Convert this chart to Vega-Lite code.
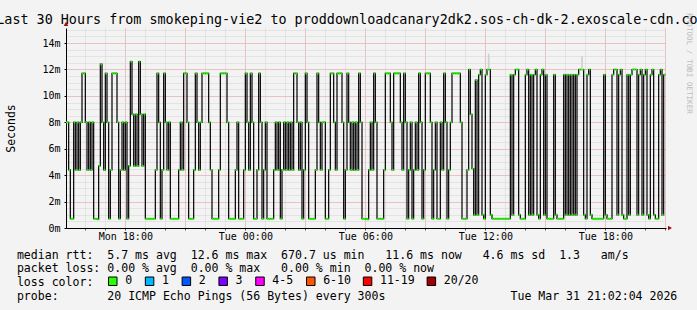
{
"$schema": "https://vega.github.io/schema/vega-lite/v6.json",
"width": 600, "height": 200,
"autosize": "none",
"padding": {"left": 66, "top": 28, "right": 31, "bottom": 82},
"background": "#f3f3f3",
"config": {
  "font": "DejaVu Sans Mono",
  "view": {"fill": "white", "stroke": null},
  "axis": {"labelFont": "DejaVu Sans Mono", "labelColor": "black", "titleFont": "DejaVu Sans Mono", "titleFontWeight": "normal", "titleColor": "black", "domainColor": "black", "gridWidth": 1, "gridDash": [1, 1]}
},
"title": {"text": "Last 30 Hours from smokeping-vie2 to proddownloadcanary2dk2.sos-ch-dk-2.exoscale-cdn.com", "font": "DejaVu Sans Mono", "fontSize": 13.4, "fontWeight": "normal", "color": "black", "anchor": "middle", "frame": "group", "dx": -15, "dy": 17, "baseline": "alphabetic", "offset": -8},
"datasets": {
"rtt": [
{"t":"2026-03-30T15:00Z","v":0.008},{"t":"2026-03-30T15:05Z","v":0.008},{"t":"2026-03-30T15:10Z","v":0.0044},{"t":"2026-03-30T15:15Z","v":0.0007},{"t":"2026-03-30T15:20Z","v":0.0007},{"t":"2026-03-30T15:25Z","v":0.008},{"t":"2026-03-30T15:30Z","v":0.0044},{"t":"2026-03-30T15:35Z","v":0.008},{"t":"2026-03-30T15:40Z","v":0.0044},{"t":"2026-03-30T15:45Z","v":0.008},{"t":"2026-03-30T15:50Z","v":0.0117},{"t":"2026-03-30T15:55Z","v":0.0117},
{"t":"2026-03-30T16:00Z","v":0.008},{"t":"2026-03-30T16:05Z","v":0.0044},{"t":"2026-03-30T16:10Z","v":0.008},{"t":"2026-03-30T16:15Z","v":0.0044},{"t":"2026-03-30T16:20Z","v":0.008},{"t":"2026-03-30T16:25Z","v":0.0007},{"t":"2026-03-30T16:30Z","v":0.0007},{"t":"2026-03-30T16:35Z","v":0.00067},{"t":"2026-03-30T16:40Z","v":0.0047},{"t":"2026-03-30T16:45Z","v":0.0124},{"t":"2026-03-30T16:50Z","v":0.008},{"t":"2026-03-30T16:55Z","v":0.0044},
{"t":"2026-03-30T17:00Z","v":0.0117},{"t":"2026-03-30T17:05Z","v":0.008},{"t":"2026-03-30T17:10Z","v":0.0007},{"t":"2026-03-30T17:15Z","v":0.0044},{"t":"2026-03-30T17:20Z","v":0.0117},{"t":"2026-03-30T17:25Z","v":0.0117},{"t":"2026-03-30T17:30Z","v":0.0117},{"t":"2026-03-30T17:35Z","v":0.008},{"t":"2026-03-30T17:40Z","v":0.0007},{"t":"2026-03-30T17:45Z","v":0.0044},{"t":"2026-03-30T17:50Z","v":0.008},{"t":"2026-03-30T17:55Z","v":0.0044},
{"t":"2026-03-30T18:00Z","v":0.008},{"t":"2026-03-30T18:05Z","v":0.0007},{"t":"2026-03-30T18:10Z","v":0.0047},{"t":"2026-03-30T18:15Z","v":0.0126},{"t":"2026-03-30T18:20Z","v":0.0086},{"t":"2026-03-30T18:25Z","v":0.0047},{"t":"2026-03-30T18:30Z","v":0.0086},{"t":"2026-03-30T18:35Z","v":0.0047},{"t":"2026-03-30T18:40Z","v":0.0126},{"t":"2026-03-30T18:45Z","v":0.0086},{"t":"2026-03-30T18:50Z","v":0.0047},{"t":"2026-03-30T18:55Z","v":0.0086},
{"t":"2026-03-30T19:00Z","v":0.0007},{"t":"2026-03-30T19:05Z","v":0.0007},{"t":"2026-03-30T19:10Z","v":0.0007},{"t":"2026-03-30T19:15Z","v":0.0007},{"t":"2026-03-30T19:20Z","v":0.0007},{"t":"2026-03-30T19:25Z","v":0.0007},{"t":"2026-03-30T19:30Z","v":0.0044},{"t":"2026-03-30T19:35Z","v":0.0117},{"t":"2026-03-30T19:40Z","v":0.008},{"t":"2026-03-30T19:45Z","v":0.0007},{"t":"2026-03-30T19:50Z","v":0.0044},{"t":"2026-03-30T19:55Z","v":0.0117},
{"t":"2026-03-30T20:00Z","v":0.008},{"t":"2026-03-30T20:05Z","v":0.0044},{"t":"2026-03-30T20:10Z","v":0.008},{"t":"2026-03-30T20:15Z","v":0.0007},{"t":"2026-03-30T20:20Z","v":0.0007},{"t":"2026-03-30T20:25Z","v":0.0007},{"t":"2026-03-30T20:30Z","v":0.0007},{"t":"2026-03-30T20:35Z","v":0.0007},{"t":"2026-03-30T20:40Z","v":0.0044},{"t":"2026-03-30T20:45Z","v":0.008},{"t":"2026-03-30T20:50Z","v":0.0044},{"t":"2026-03-30T20:55Z","v":0.0117},
{"t":"2026-03-30T21:00Z","v":0.0117},{"t":"2026-03-30T21:05Z","v":0.008},{"t":"2026-03-30T21:10Z","v":0.0007},{"t":"2026-03-30T21:15Z","v":0.0007},{"t":"2026-03-30T21:20Z","v":0.0007},{"t":"2026-03-30T21:25Z","v":0.0044},{"t":"2026-03-30T21:30Z","v":0.0117},{"t":"2026-03-30T21:35Z","v":0.008},{"t":"2026-03-30T21:40Z","v":0.0044},{"t":"2026-03-30T21:45Z","v":0.008},{"t":"2026-03-30T21:50Z","v":0.0117},{"t":"2026-03-30T21:55Z","v":0.0117},
{"t":"2026-03-30T22:00Z","v":0.0117},{"t":"2026-03-30T22:05Z","v":0.0117},{"t":"2026-03-30T22:10Z","v":0.008},{"t":"2026-03-30T22:15Z","v":0.0044},{"t":"2026-03-30T22:20Z","v":0.0007},{"t":"2026-03-30T22:25Z","v":0.0007},{"t":"2026-03-30T22:30Z","v":0.0007},{"t":"2026-03-30T22:35Z","v":0.0007},{"t":"2026-03-30T22:40Z","v":0.0044},{"t":"2026-03-30T22:45Z","v":0.0117},{"t":"2026-03-30T22:50Z","v":0.0117},{"t":"2026-03-30T22:55Z","v":0.0117},
{"t":"2026-03-30T23:00Z","v":0.0117},{"t":"2026-03-30T23:05Z","v":0.008},{"t":"2026-03-30T23:10Z","v":0.0007},{"t":"2026-03-30T23:15Z","v":0.0007},{"t":"2026-03-30T23:20Z","v":0.0007},{"t":"2026-03-30T23:25Z","v":0.0007},{"t":"2026-03-30T23:30Z","v":0.0044},{"t":"2026-03-30T23:35Z","v":0.008},{"t":"2026-03-30T23:40Z","v":0.0007},{"t":"2026-03-30T23:45Z","v":0.0007},{"t":"2026-03-30T23:50Z","v":0.0007},{"t":"2026-03-30T23:55Z","v":0.0044},
{"t":"2026-03-31T00:00Z","v":0.0117},{"t":"2026-03-31T00:05Z","v":0.008},{"t":"2026-03-31T00:10Z","v":0.0044},{"t":"2026-03-31T00:15Z","v":0.0117},{"t":"2026-03-31T00:20Z","v":0.008},{"t":"2026-03-31T00:25Z","v":0.0007},{"t":"2026-03-31T00:30Z","v":0.0007},{"t":"2026-03-31T00:35Z","v":0.0044},{"t":"2026-03-31T00:40Z","v":0.0117},{"t":"2026-03-31T00:45Z","v":0.008},{"t":"2026-03-31T00:50Z","v":0.0007},{"t":"2026-03-31T00:55Z","v":0.0044},
{"t":"2026-03-31T01:00Z","v":0.008},{"t":"2026-03-31T01:05Z","v":0.0007},{"t":"2026-03-31T01:10Z","v":0.0007},{"t":"2026-03-31T01:15Z","v":0.0007},{"t":"2026-03-31T01:20Z","v":0.0007},{"t":"2026-03-31T01:25Z","v":0.0044},{"t":"2026-03-31T01:30Z","v":0.008},{"t":"2026-03-31T01:35Z","v":0.0044},{"t":"2026-03-31T01:40Z","v":0.008},{"t":"2026-03-31T01:45Z","v":0.0007},{"t":"2026-03-31T01:50Z","v":0.0044},{"t":"2026-03-31T01:55Z","v":0.008},
{"t":"2026-03-31T02:00Z","v":0.0044},{"t":"2026-03-31T02:05Z","v":0.008},{"t":"2026-03-31T02:10Z","v":0.0044},{"t":"2026-03-31T02:15Z","v":0.008},{"t":"2026-03-31T02:20Z","v":0.0044},{"t":"2026-03-31T02:25Z","v":0.0117},{"t":"2026-03-31T02:30Z","v":0.0117},{"t":"2026-03-31T02:35Z","v":0.008},{"t":"2026-03-31T02:40Z","v":0.0044},{"t":"2026-03-31T02:45Z","v":0.008},{"t":"2026-03-31T02:50Z","v":0.0007},{"t":"2026-03-31T02:55Z","v":0.0044},
{"t":"2026-03-31T03:00Z","v":0.0117},{"t":"2026-03-31T03:05Z","v":0.008},{"t":"2026-03-31T03:10Z","v":0.0007},{"t":"2026-03-31T03:15Z","v":0.0007},{"t":"2026-03-31T03:20Z","v":0.0007},{"t":"2026-03-31T03:25Z","v":0.0007},{"t":"2026-03-31T03:30Z","v":0.0044},{"t":"2026-03-31T03:35Z","v":0.0117},{"t":"2026-03-31T03:40Z","v":0.008},{"t":"2026-03-31T03:45Z","v":0.0044},{"t":"2026-03-31T03:50Z","v":0.008},{"t":"2026-03-31T03:55Z","v":0.008},
{"t":"2026-03-31T04:00Z","v":0.0007},{"t":"2026-03-31T04:05Z","v":0.0007},{"t":"2026-03-31T04:10Z","v":0.0044},{"t":"2026-03-31T04:15Z","v":0.0117},{"t":"2026-03-31T04:20Z","v":0.0117},{"t":"2026-03-31T04:25Z","v":0.008},{"t":"2026-03-31T04:30Z","v":0.0044},{"t":"2026-03-31T04:35Z","v":0.0117},{"t":"2026-03-31T04:40Z","v":0.0117},{"t":"2026-03-31T04:45Z","v":0.0117},{"t":"2026-03-31T04:50Z","v":0.008},{"t":"2026-03-31T04:55Z","v":0.0007},
{"t":"2026-03-31T05:00Z","v":0.0044},{"t":"2026-03-31T05:05Z","v":0.0117},{"t":"2026-03-31T05:10Z","v":0.008},{"t":"2026-03-31T05:15Z","v":0.0044},{"t":"2026-03-31T05:20Z","v":0.008},{"t":"2026-03-31T05:25Z","v":0.0044},{"t":"2026-03-31T05:30Z","v":0.008},{"t":"2026-03-31T05:35Z","v":0.0044},{"t":"2026-03-31T05:40Z","v":0.0117},{"t":"2026-03-31T05:45Z","v":0.008},{"t":"2026-03-31T05:50Z","v":0.0007},{"t":"2026-03-31T05:55Z","v":0.0007},
{"t":"2026-03-31T06:00Z","v":0.0007},{"t":"2026-03-31T06:05Z","v":0.00067},{"t":"2026-03-31T06:10Z","v":0.0044},{"t":"2026-03-31T06:15Z","v":0.008},{"t":"2026-03-31T06:20Z","v":0.0044},{"t":"2026-03-31T06:25Z","v":0.0117},{"t":"2026-03-31T06:30Z","v":0.008},{"t":"2026-03-31T06:35Z","v":0.0007},{"t":"2026-03-31T06:40Z","v":0.0007},{"t":"2026-03-31T06:45Z","v":0.0007},{"t":"2026-03-31T06:50Z","v":0.0007},{"t":"2026-03-31T06:55Z","v":0.0044},
{"t":"2026-03-31T07:00Z","v":0.0117},{"t":"2026-03-31T07:05Z","v":0.0117},{"t":"2026-03-31T07:10Z","v":0.0117},{"t":"2026-03-31T07:15Z","v":0.008},{"t":"2026-03-31T07:20Z","v":0.0044},{"t":"2026-03-31T07:25Z","v":0.0117},{"t":"2026-03-31T07:30Z","v":0.0117},{"t":"2026-03-31T07:35Z","v":0.0117},{"t":"2026-03-31T07:40Z","v":0.0117},{"t":"2026-03-31T07:45Z","v":0.008},{"t":"2026-03-31T07:50Z","v":0.0044},{"t":"2026-03-31T07:55Z","v":0.0117},
{"t":"2026-03-31T08:00Z","v":0.008},{"t":"2026-03-31T08:05Z","v":0.0007},{"t":"2026-03-31T08:10Z","v":0.0044},{"t":"2026-03-31T08:15Z","v":0.008},{"t":"2026-03-31T08:20Z","v":0.0007},{"t":"2026-03-31T08:25Z","v":0.0044},{"t":"2026-03-31T08:30Z","v":0.008},{"t":"2026-03-31T08:35Z","v":0.0044},{"t":"2026-03-31T08:40Z","v":0.0117},{"t":"2026-03-31T08:45Z","v":0.008},{"t":"2026-03-31T08:50Z","v":0.0007},{"t":"2026-03-31T08:55Z","v":0.0044},
{"t":"2026-03-31T09:00Z","v":0.0117},{"t":"2026-03-31T09:05Z","v":0.0117},{"t":"2026-03-31T09:10Z","v":0.0117},{"t":"2026-03-31T09:15Z","v":0.008},{"t":"2026-03-31T09:20Z","v":0.0007},{"t":"2026-03-31T09:25Z","v":0.0044},{"t":"2026-03-31T09:30Z","v":0.008},{"t":"2026-03-31T09:35Z","v":0.0007},{"t":"2026-03-31T09:40Z","v":0.0007},{"t":"2026-03-31T09:45Z","v":0.008},{"t":"2026-03-31T09:50Z","v":0.0044},{"t":"2026-03-31T09:55Z","v":0.0117},
{"t":"2026-03-31T10:00Z","v":0.008},{"t":"2026-03-31T10:05Z","v":0.0007},{"t":"2026-03-31T10:10Z","v":0.0044},{"t":"2026-03-31T10:15Z","v":0.008},{"t":"2026-03-31T10:20Z","v":0.0117},{"t":"2026-03-31T10:25Z","v":0.0117},{"t":"2026-03-31T10:30Z","v":0.0117},{"t":"2026-03-31T10:35Z","v":0.0117},{"t":"2026-03-31T10:40Z","v":0.0117},{"t":"2026-03-31T10:45Z","v":0.008},{"t":"2026-03-31T10:50Z","v":0.0007},{"t":"2026-03-31T10:55Z","v":0.0007},
{"t":"2026-03-31T11:00Z","v":0.0007},{"t":"2026-03-31T11:05Z","v":0.0044},{"t":"2026-03-31T11:10Z","v":0.012},{"t":"2026-03-31T11:15Z","v":0.0086},{"t":"2026-03-31T11:20Z","v":0.0045},{"t":"2026-03-31T11:25Z","v":0.001},{"t":"2026-03-31T11:30Z","v":0.0112},{"t":"2026-03-31T11:35Z","v":0.001},{"t":"2026-03-31T11:40Z","v":0.0116},{"t":"2026-03-31T11:45Z","v":0.012},{"t":"2026-03-31T11:50Z","v":0.001},{"t":"2026-03-31T11:55Z","v":0.0007},
{"t":"2026-03-31T12:00Z","v":0.0116},{"t":"2026-03-31T12:05Z","v":0.012},{"t":"2026-03-31T12:10Z","v":0.012},{"t":"2026-03-31T12:15Z","v":0.001},{"t":"2026-03-31T12:20Z","v":0.0007},{"t":"2026-03-31T12:25Z","v":0.0007},{"t":"2026-03-31T12:30Z","v":0.0007},{"t":"2026-03-31T12:35Z","v":0.0007},{"t":"2026-03-31T12:40Z","v":0.0007},{"t":"2026-03-31T12:45Z","v":0.0007},{"t":"2026-03-31T12:50Z","v":0.0007},{"t":"2026-03-31T12:55Z","v":0.0007},
{"t":"2026-03-31T13:00Z","v":0.0007},{"t":"2026-03-31T13:05Z","v":0.0007},{"t":"2026-03-31T13:10Z","v":0.0007},{"t":"2026-03-31T13:15Z","v":0.0116},{"t":"2026-03-31T13:20Z","v":0.001},{"t":"2026-03-31T13:25Z","v":0.0116},{"t":"2026-03-31T13:30Z","v":0.012},{"t":"2026-03-31T13:35Z","v":0.012},{"t":"2026-03-31T13:40Z","v":0.001},{"t":"2026-03-31T13:45Z","v":0.0007},{"t":"2026-03-31T13:50Z","v":0.0007},{"t":"2026-03-31T13:55Z","v":0.0007},
{"t":"2026-03-31T14:00Z","v":0.0116},{"t":"2026-03-31T14:05Z","v":0.012},{"t":"2026-03-31T14:10Z","v":0.001},{"t":"2026-03-31T14:15Z","v":0.0116},{"t":"2026-03-31T14:20Z","v":0.001},{"t":"2026-03-31T14:25Z","v":0.0116},{"t":"2026-03-31T14:30Z","v":0.012},{"t":"2026-03-31T14:35Z","v":0.001},{"t":"2026-03-31T14:40Z","v":0.0007},{"t":"2026-03-31T14:45Z","v":0.0116},{"t":"2026-03-31T14:50Z","v":0.012},{"t":"2026-03-31T14:55Z","v":0.001},
{"t":"2026-03-31T15:00Z","v":0.0116},{"t":"2026-03-31T15:05Z","v":0.0007},{"t":"2026-03-31T15:10Z","v":0.0007},{"t":"2026-03-31T15:15Z","v":0.0007},{"t":"2026-03-31T15:20Z","v":0.0007},{"t":"2026-03-31T15:25Z","v":0.0116},{"t":"2026-03-31T15:30Z","v":0.001},{"t":"2026-03-31T15:35Z","v":0.0007},{"t":"2026-03-31T15:40Z","v":0.0007},{"t":"2026-03-31T15:45Z","v":0.0007},{"t":"2026-03-31T15:50Z","v":0.0007},{"t":"2026-03-31T15:55Z","v":0.0116},
{"t":"2026-03-31T16:00Z","v":0.001},{"t":"2026-03-31T16:05Z","v":0.0116},{"t":"2026-03-31T16:10Z","v":0.001},{"t":"2026-03-31T16:15Z","v":0.0116},{"t":"2026-03-31T16:20Z","v":0.001},{"t":"2026-03-31T16:25Z","v":0.0116},{"t":"2026-03-31T16:30Z","v":0.001},{"t":"2026-03-31T16:35Z","v":0.0116},{"t":"2026-03-31T16:40Z","v":0.012},{"t":"2026-03-31T16:45Z","v":0.012},{"t":"2026-03-31T16:50Z","v":0.012},{"t":"2026-03-31T16:55Z","v":0.001},
{"t":"2026-03-31T17:00Z","v":0.0007},{"t":"2026-03-31T17:05Z","v":0.0116},{"t":"2026-03-31T17:10Z","v":0.012},{"t":"2026-03-31T17:15Z","v":0.001},{"t":"2026-03-31T17:20Z","v":0.0007},{"t":"2026-03-31T17:25Z","v":0.0007},{"t":"2026-03-31T17:30Z","v":0.0007},{"t":"2026-03-31T17:35Z","v":0.0007},{"t":"2026-03-31T17:40Z","v":0.0007},{"t":"2026-03-31T17:45Z","v":0.0007},{"t":"2026-03-31T17:50Z","v":0.0007},{"t":"2026-03-31T17:55Z","v":0.0116},
{"t":"2026-03-31T18:00Z","v":0.001},{"t":"2026-03-31T18:05Z","v":0.0007},{"t":"2026-03-31T18:10Z","v":0.0007},{"t":"2026-03-31T18:15Z","v":0.0007},{"t":"2026-03-31T18:20Z","v":0.0116},{"t":"2026-03-31T18:25Z","v":0.012},{"t":"2026-03-31T18:30Z","v":0.012},{"t":"2026-03-31T18:35Z","v":0.001},{"t":"2026-03-31T18:40Z","v":0.0116},{"t":"2026-03-31T18:45Z","v":0.012},{"t":"2026-03-31T18:50Z","v":0.001},{"t":"2026-03-31T18:55Z","v":0.0007},
{"t":"2026-03-31T19:00Z","v":0.0007},{"t":"2026-03-31T19:05Z","v":0.0116},{"t":"2026-03-31T19:10Z","v":0.001},{"t":"2026-03-31T19:15Z","v":0.0116},{"t":"2026-03-31T19:20Z","v":0.012},{"t":"2026-03-31T19:25Z","v":0.012},{"t":"2026-03-31T19:30Z","v":0.012},{"t":"2026-03-31T19:35Z","v":0.001},{"t":"2026-03-31T19:40Z","v":0.0116},{"t":"2026-03-31T19:45Z","v":0.012},{"t":"2026-03-31T19:50Z","v":0.001},{"t":"2026-03-31T19:55Z","v":0.0116},
{"t":"2026-03-31T20:00Z","v":0.012},{"t":"2026-03-31T20:05Z","v":0.001},{"t":"2026-03-31T20:10Z","v":0.0007},{"t":"2026-03-31T20:15Z","v":0.0116},{"t":"2026-03-31T20:20Z","v":0.012},{"t":"2026-03-31T20:25Z","v":0.001},{"t":"2026-03-31T20:30Z","v":0.0007},{"t":"2026-03-31T20:35Z","v":0.0007},{"t":"2026-03-31T20:40Z","v":0.0116},{"t":"2026-03-31T20:45Z","v":0.012},{"t":"2026-03-31T20:50Z","v":0.001},{"t":"2026-03-31T20:55Z","v":0.0116},
{"t":"2026-03-31T21:00Z","v":0.0116}
],
"smoke": [
{"t":"2026-03-31T12:10Z","lo":0.0121,"hi":0.0132},
{"t":"2026-03-31T16:50Z","lo":0.012,"hi":0.013}
],
"losscolors": [
{"loss":"0"},{"loss":"1"},{"loss":"2"},{"loss":"3"},{"loss":"4-5"},{"loss":"6-10"},{"loss":"11-19"},{"loss":"20/20"}
]
},
"layer": [
  {
    "data": {"name": "rtt"},
    "mark": {"type": "line", "interpolate": "step-after", "color": "black", "strokeWidth": 1.2, "clip": true},
    "encoding": {
      "x": {"field": "t", "type": "temporal",
        "scale": {"type": "utc", "domain": [{"year": 2026, "month": 3, "date": 30, "hours": 15, "minutes": 2, "utc": true}, {"year": 2026, "month": 3, "date": 31, "hours": 21, "minutes": 2, "utc": true}]},
        "axis": {"orient": "bottom", "tickCount": 30, "labels": false, "domain": false, "ticks": true, "tickSize": 2, "tickColor": "#555555", "grid": true, "gridColor": "#d2d2d2", "title": null}},
      "y": {"field": "v", "type": "quantitative", "scale": {"domain": [0, 0.01514], "nice": false, "zero": true},
        "axis": {"orient": "left", "values": [0,0.0005,0.001,0.0015,0.002,0.0025,0.003,0.0035,0.004,0.0045,0.005,0.0055,0.006,0.0065,0.007,0.0075,0.008,0.0085,0.009,0.0095,0.01,0.0105,0.011,0.0115,0.012,0.0125,0.013,0.0135,0.014,0.0145,0.015],
          "labels": false, "ticks": false, "domain": false, "grid": true, "gridColor": "#d2d2d2", "title": null}}
    }
  },
  {
    "data": {"name": "rtt"},
    "transform": [{"window": [{"op": "lead", "field": "t", "as": "t2"}]}],
    "mark": {"type": "rule", "color": "#20f000", "strokeWidth": 2, "clip": true},
    "encoding": {
      "x": {"field": "t", "type": "temporal",
        "axis": {"orient": "bottom",
          "values": [{"year": 2026, "month": 3, "date": 30, "hours": 18, "utc": true}, {"year": 2026, "month": 3, "date": 30, "hours": 21, "utc": true}, {"year": 2026, "month": 3, "date": 31, "hours": 0, "utc": true}, {"year": 2026, "month": 3, "date": 31, "hours": 3, "utc": true}, {"year": 2026, "month": 3, "date": 31, "hours": 6, "utc": true}, {"year": 2026, "month": 3, "date": 31, "hours": 9, "utc": true}, {"year": 2026, "month": 3, "date": 31, "hours": 12, "utc": true}, {"year": 2026, "month": 3, "date": 31, "hours": 15, "utc": true}, {"year": 2026, "month": 3, "date": 31, "hours": 18, "utc": true}, {"year": 2026, "month": 3, "date": 31, "hours": 21, "utc": true}],
          "labels": false, "domain": false, "ticks": false, "grid": true, "gridColor": "#eba2a2", "title": null}},
      "x2": {"field": "t2"},
      "y": {"field": "v", "type": "quantitative",
        "axis": {"orient": "left", "values": [0, 0.002, 0.004, 0.006, 0.008, 0.01, 0.012, 0.014], "format": "~s",
          "labelFontSize": 10, "labelBaseline": "middle", "labelPadding": 4, "tickSize": 2, "tickColor": "black",
          "domain": true, "domainColor": "black", "grid": true, "gridColor": "#eba2a2",
          "title": "Seconds", "titleFontSize": 11.5, "titleAngle": 270, "titleX": -55, "titleY": 100, "titleAlign": "center", "titleBaseline": "middle"}}
    }
  },
  {
    "data": {"name": "smoke"},
    "mark": {"type": "rule", "color": "#cfcfcf", "strokeWidth": 1.7, "clip": true},
    "encoding": {
      "x": {"field": "t", "type": "temporal",
        "axis": {"orient": "bottom",
          "values": [{"year": 2026, "month": 3, "date": 30, "hours": 18, "utc": true}, {"year": 2026, "month": 3, "date": 31, "hours": 0, "utc": true}, {"year": 2026, "month": 3, "date": 31, "hours": 6, "utc": true}, {"year": 2026, "month": 3, "date": 31, "hours": 12, "utc": true}, {"year": 2026, "month": 3, "date": 31, "hours": 18, "utc": true}],
          "format": "%a %H:%M", "labelFontSize": 10, "labelBaseline": "alphabetic", "labelPadding": 11, "labelAngle": 0, "labelFlush": false,
          "ticks": false, "grid": false, "domain": true, "domainColor": "black",
          "title": ["median rtt: \u00a05.7 ms avg \u00a012.6 ms max \u00a0670.7 us min \u00a0\u00a011.6 ms now \u00a0\u00a04.6 ms sd \u00a01.3 \u00a0\u00a0am/s", "packet loss: 0.00 % avg \u00a00.00 % max \u00a0\u00a00.00 % min \u00a00.00 % now", "loss color:", "probe: \u00a0\u00a0\u00a0\u00a0\u00a0\u00a020 ICMP Echo Pings (56 Bytes) every 300s \u00a0\u00a0\u00a0\u00a0\u00a0\u00a0\u00a0\u00a0\u00a0\u00a0\u00a0\u00a0\u00a0\u00a0\u00a0\u00a0\u00a0Tue Mar 31 21:02:04 2026"],
          "titleFontSize": 11.56, "titleAnchor": "start", "titleAlign": "left", "titleBaseline": "alphabetic",
          "titleX": -49.6, "titleY": 30, "titleLineHeight": 13.8}},
      "y": {"field": "lo", "type": "quantitative",
        "axis": {"orient": "right", "labels": false, "ticks": false, "domain": false, "grid": false,
          "title": "RRDTOOL / TOBI OETIKER", "titleFontSize": 7.6, "titleColor": "#bdbdbd", "titleAngle": 90,
          "titleX": 22, "titleY": 35, "titleAlign": "center", "titleBaseline": "middle"}},
      "y2": {"field": "hi"}
    }
  },
  {
    "data": {"name": "losscolors"},
    "mark": {"type": "square", "opacity": 0},
    "encoding": {
      "color": {"field": "loss", "type": "nominal",
        "scale": {"domain": ["0", "1", "2", "3", "4-5", "6-10", "11-19", "20/20"], "range": ["#26ff00", "#00b8ff", "#0059ff", "#7e00ff", "#ff00ff", "#ff5500", "#ff0000", "#a10000"]},
        "legend": {"orient": "none", "legendX": 41, "legendY": 247, "direction": "horizontal",
          "title": null,
          "labelFont": "DejaVu Sans Mono", "labelFontSize": 11.56, "labelColor": "black", "labelOffset": 6.6,
          "symbolType": "square", "symbolSize": 72, "symbolStrokeColor": "black", "symbolStrokeWidth": 1, "symbolOpacity": 1, "columnPadding": 9.8}
      }
    }
  },
  {
    "data": {"values": [{"a": 1}]},
    "mark": {"type": "point", "shape": "triangle-right", "filled": true, "color": "#a01010", "size": 22, "opacity": 1, "clip": false},
    "encoding": {
      "x": {"datum": {"year": 2026, "month": 3, "date": 31, "hours": 21, "minutes": 14, "utc": true}, "type": "temporal", "axis": null},
      "y": {"datum": 0, "type": "quantitative", "axis": null}
    }
  },
  {
    "data": {"values": [{"a": 1}]},
    "mark": {"type": "point", "shape": "triangle-up", "filled": true, "color": "#a01010", "size": 22, "opacity": 1, "clip": false},
    "encoding": {
      "x": {"datum": {"year": 2026, "month": 3, "date": 30, "hours": 15, "minutes": 2, "utc": true}, "type": "temporal", "axis": null},
      "y": {"datum": 0.01545, "type": "quantitative", "axis": null}
    }
  }
],
"resolve": {"axis": {"x": "independent", "y": "independent"}}
}
